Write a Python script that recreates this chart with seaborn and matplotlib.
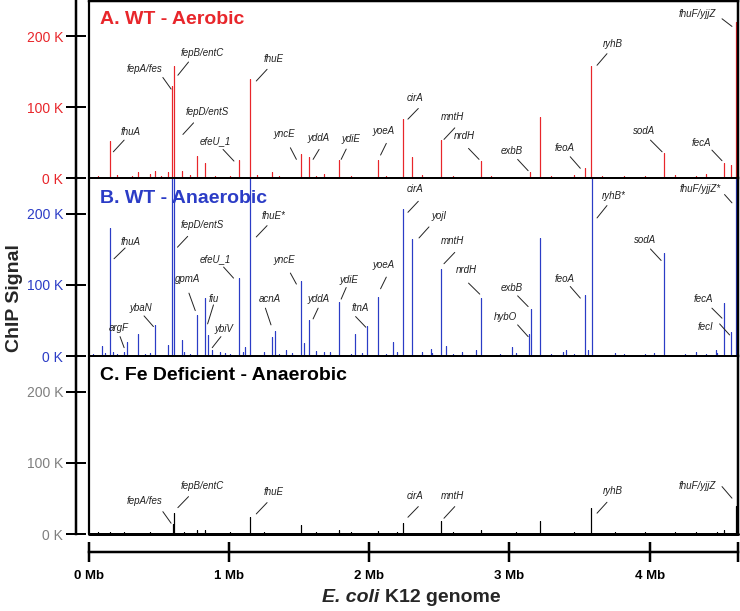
import numpy as np
import pandas as pd
import matplotlib
matplotlib.use("Agg")
import matplotlib.pyplot as plt
import seaborn as sns

# ---------------- data (positions in Mb, signal in thousands) ----------------
peaks_a_mb = [0.151, 0.351, 0.475, 0.566, 0.596, 0.609, 0.666, 0.775, 0.827, 1.070,
              1.151, 1.309, 1.513, 1.573, 1.784, 2.063, 2.241, 2.304, 2.511, 2.799,
              3.149, 3.220, 3.541, 3.584, 4.106, 4.527, 4.582, 4.618]
peaks_a_k = [52, 8, 10, 8, 130, 158, 10, 31, 21, 25,
             140, 8, 34, 29, 25, 25, 83, 30, 53, 24,
             9, 86, 14, 158, 36, 21, 18, 220]

peaks_b_mb = [0.099, 0.154, 0.177, 0.277, 0.354, 0.477, 0.570, 0.596, 0.609, 0.666,
              0.775, 0.830, 0.849, 0.882, 0.934, 1.073, 1.113, 1.154, 1.309, 1.330,
              1.411, 1.518, 1.539, 1.575, 1.784, 1.901, 1.982, 2.063, 2.173, 2.241,
              2.304, 2.439, 2.511, 2.551, 2.761, 2.799, 3.016, 3.141, 3.154, 3.220,
              3.404, 3.541, 3.561, 3.587, 4.106, 4.473, 4.527, 4.582, 4.618]
peaks_b_k = [14, 180, 6, 19, 31, 43, 16, 300, 300, 22,
             57, 81, 29, 8, 6, 109, 12, 300, 26, 35,
             8, 105, 18, 50, 76, 31, 42, 83, 20, 206,
             164, 10, 122, 14, 8, 82, 12, 31, 66, 166,
             8, 86, 8, 300, 145, 8, 74, 34, 300]

peaks_c_mb = [0.154, 0.601, 0.611, 0.775, 0.827, 1.154, 1.518, 1.784, 2.063, 2.241,
              2.511, 2.799, 3.220, 3.584, 4.527, 4.618]
peaks_c_k = [3, 14, 30, 5, 5, 24, 12, 5, 4, 16,
             18, 5, 18, 36, 5, 40]

minor_mb = [0.03, 0.07, 0.12, 0.20, 0.25, 0.31, 0.40, 0.44, 0.52, 0.68, 0.72, 0.90,
            0.97, 1.01, 1.10, 1.20, 1.25, 1.36, 1.45, 1.62, 1.68, 1.72, 1.87, 1.95,
            2.12, 2.20, 2.38, 2.45, 2.60, 2.66, 2.87, 2.93, 3.05, 3.30, 3.38, 3.46,
            3.66, 3.75, 3.82, 3.90, 3.97, 4.03, 4.18, 4.25, 4.33, 4.40, 4.48]
minor_a_k = [2, 3, 2, 4, 2, 3, 2, 5, 3, 2, 4, 3, 2, 3, 2, 4, 2, 3, 2, 3, 5, 2, 3, 2,
             3, 2, 4, 2, 3, 2, 3, 2, 2, 3, 2, 4, 3, 2, 3, 2, 3, 2, 4, 2, 3, 5, 2]
minor_b_k = [3, 2, 4, 3, 5, 2, 3, 4, 2, 5, 3, 2, 4, 3, 5, 2, 6, 3, 4, 7, 5, 6, 3, 4,
             3, 5, 6, 4, 3, 5, 2, 3, 4, 3, 5, 3, 2, 4, 3, 2, 3, 4, 2, 3, 5, 3, 4]
minor_c_k = [2, 3, 2, 2, 3, 2, 2, 3, 2, 3, 2, 2, 2, 3, 2, 2, 3, 2, 2, 3, 2, 2, 3, 2,
             2, 3, 2, 2, 3, 2, 2, 2, 3, 2, 2, 3, 2, 3, 2, 2, 3, 2, 3, 2, 3, 2, 3]

y_ticks_k = [0, 100, 200]
y_tick_labels = ["0 K", "100 K", "200 K"]
x_ticks_mb = [0, 1, 2, 3, 4]
x_tick_labels = ["0 Mb", "1 Mb", "2 Mb", "3 Mb", "4 Mb"]
genome_end_mb = 4.63

panel_titles = ["A. WT - Aerobic", "B. WT - Anaerobic", "C. Fe Deficient - Anaerobic"]

# gene labels: name, text (x, y), pointer start (x, y), pointer end (x, y)  [Mb, K]
labels_a = [
    ("fhuA", 0.304, 64.4, 0.254, 53.5, 0.177, 37.0),
    ("fepA/fes", 0.399, 154.5, 0.530, 142.0, 0.589, 125.6),
    ("fepB/entC", 0.809, 177.0, 0.713, 163.8, 0.637, 145.1),
    ("fhuE", 1.320, 168.0, 1.273, 153.5, 1.196, 137.0),
    ("fepD/entS", 0.844, 93.4, 0.749, 77.9, 0.673, 61.5),
    ("efeU_1", 0.904, 51.5, 0.959, 40.4, 1.037, 23.9),
    ("yncE", 1.396, 61.5, 1.439, 42.7, 1.482, 26.3),
    ("yddA", 1.637, 55.9, 1.644, 40.4, 1.601, 26.3),
    ("ydiE", 1.873, 54.5, 1.837, 40.8, 1.801, 26.3),
    ("yoeA", 2.101, 66.2, 2.123, 48.9, 2.082, 32.4),
    ("cirA", 2.327, 113.1, 2.351, 98.2, 2.277, 83.1),
    ("mntH", 2.594, 86.3, 2.611, 70.8, 2.534, 54.5),
    ("nrdH", 2.682, 59.2, 2.709, 41.8, 2.784, 26.3),
    ("exbB", 3.016, 38.0, 3.059, 26.3, 3.134, 10.3),
    ("feoA", 3.396, 41.8, 3.434, 30.0, 3.506, 13.7),
    ("ryhB", 3.737, 189.7, 3.696, 175.6, 3.625, 159.2),
    ("sodA", 3.963, 66.2, 4.006, 53.5, 4.089, 37.0),
    ("fecA", 4.368, 49.7, 4.444, 39.4, 4.516, 24.4),
    ("fhuF/yjjZ", 4.337, 232.0, 4.516, 224.9, 4.587, 214.1),
]
labels_b = [
    ("fhuA", 0.304, 160.1, 0.261, 151.7, 0.182, 136.6),
    ("fepD/entS", 0.809, 183.8, 0.707, 168.0, 0.634, 152.8),
    ("fhuE*", 1.320, 196.2, 1.273, 183.1, 1.196, 167.2),
    ("efeU_1", 0.904, 136.2, 0.963, 124.9, 1.034, 109.4),
    ("gpmA", 0.709, 108.0, 0.716, 88.3, 0.761, 63.8),
    ("fiu", 0.894, 80.3, 0.891, 71.8, 0.849, 45.1),
    ("ybaN", 0.375, 67.2, 0.396, 56.3, 0.463, 41.3),
    ("argF", 0.216, 39.9, 0.225, 27.2, 0.254, 11.7),
    ("ybiV", 0.968, 37.6, 0.944, 27.2, 0.882, 11.7),
    ("acnA", 1.291, 79.9, 1.261, 67.2, 1.301, 43.7),
    ("yncE", 1.396, 135.2, 1.439, 116.5, 1.482, 101.0),
    ("yddA", 1.637, 79.9, 1.637, 67.2, 1.601, 52.1),
    ("ydiE", 1.856, 107.0, 1.837, 96.2, 1.801, 79.9),
    ("ftnA", 1.939, 67.2, 1.904, 55.4, 1.977, 40.4),
    ("cirA", 2.327, 235.2, 2.351, 217.3, 2.277, 201.8),
    ("yojI", 2.499, 197.2, 2.427, 181.3, 2.356, 165.8),
    ("mntH", 2.594, 161.0, 2.611, 145.5, 2.534, 129.6),
    ("yoeA", 2.101, 128.2, 2.123, 110.8, 2.082, 94.4),
    ("nrdH", 2.694, 120.1, 2.709, 102.4, 2.789, 86.9),
    ("exbB", 3.016, 96.2, 3.059, 84.5, 3.134, 69.4),
    ("hybO", 2.975, 55.4, 3.059, 43.7, 3.134, 27.2),
    ("feoA", 3.396, 108.0, 3.434, 97.6, 3.506, 81.3),
    ("ryhB*", 3.744, 224.4, 3.696, 211.3, 3.625, 193.9),
    ("sodA", 3.968, 163.4, 4.006, 150.3, 4.082, 134.2),
    ("fecA", 4.380, 80.3, 4.444, 67.2, 4.516, 53.1),
    ("fecI", 4.396, 41.3, 4.499, 45.1, 4.570, 29.6),
    ("fhuF/yjjZ*", 4.361, 235.2, 4.534, 226.8, 4.587, 215.1),
]
labels_c = [
    ("fepA/fes", 0.399, 46.5, 0.530, 31.4, 0.589, 15.1),
    ("fepB/entC", 0.809, 68.0, 0.713, 52.5, 0.637, 37.0),
    ("fhuE", 1.320, 59.6, 1.273, 44.1, 1.196, 28.2),
    ("cirA", 2.327, 53.9, 2.351, 38.5, 2.277, 23.5),
    ("mntH", 2.594, 53.9, 2.611, 38.5, 2.534, 22.1),
    ("ryhB", 3.737, 60.6, 3.696, 44.6, 3.625, 29.2),
    ("fhuF/yjjZ", 4.337, 68.0, 4.516, 66.6, 4.587, 50.3),
]

# ---------------- style ----------------
sns.set_style("white")
plt.rcParams["font.family"] = ["Liberation Sans", "DejaVu Sans"]

RED = "#E8262B"
BLUE = "#2B3CC6"
BLACK = "#000000"
GRAY = "#7F7F7F"

W, H = 740, 611
fig = plt.figure(figsize=(W / 100, H / 100), dpi=100)


def fx(px):
    return px / W


def fy(py):
    return 1 - py / H


left_px, right_px = 88.5, 738
panels_px = [(1, 178), (178, 356), (356, 534)]
px2pt = 0.72

panel_data = [
    (peaks_a_mb, peaks_a_k, minor_a_k, RED, RED, labels_a, RED),
    (peaks_b_mb, peaks_b_k, minor_b_k, BLUE, BLUE, labels_b, BLUE),
    (peaks_c_mb, peaks_c_k, minor_c_k, BLACK, GRAY, labels_c, BLACK),
]
title_y_px = [19.5, 198.5, 375]

axes = []
for i, ((top, bot), (pmb, pk, mk, col, tickcol, labs, tcol)) in enumerate(zip(panels_px, panel_data)):
    ax = fig.add_axes([fx(left_px), fy(bot), fx(right_px - left_px), (bot - top) / H])
    axes.append(ax)
    # stems built from data
    df = pd.DataFrame({"pos": list(pmb) + list(minor_mb), "sig": list(pk) + list(mk)})
    df = df.sort_values("pos")
    xs, ys = [0.0], [0.0]
    for p, s in zip(df["pos"], df["sig"]):
        xs += [p, p, p]
        ys += [0.0, s, 0.0]
    xs.append(genome_end_mb)
    ys.append(0.0)
    stem = pd.DataFrame({"x": xs, "y": ys})
    sns.lineplot(data=stem, x="x", y="y", sort=False, estimator=None,
                 color=col, lw=0.8, ax=ax, legend=False)
    ax.set_xlim(0, genome_end_mb)
    ax.set_ylim(0, 250)
    ax.set_xlabel("")
    ax.set_ylabel("")

    # gene labels
    for name, tx, ty, x0, y0, x1, y1 in labs:
        ax.text(tx, ty, name, fontsize=7, fontstyle="italic", color="#222222",
                ha="center", va="center")
        ax.plot([x0, x1], [y0, y1], color="#222222", lw=0.7)

    # y axis (detached)
    ax.set_yticks(y_ticks_k)
    ax.set_yticklabels(y_tick_labels, fontsize=9.5, fontweight="bold", color=tickcol)
    ax.spines["left"].set_position(("outward", 12.5 * px2pt))
    ax.spines["left"].set_linewidth(2.5 * px2pt)
    ax.tick_params(axis="y", direction="inout", length=20 * px2pt, width=2 * px2pt,
                   pad=2, left=True, colors=BLACK, labelcolor=tickcol)
    # frame
    ax.axvline(0, color=BLACK, lw=2.2 * px2pt, clip_on=False, zorder=5)
    ax.spines["right"].set_linewidth(2.5 * px2pt)
    ax.spines["top"].set_linewidth(2.5 * px2pt if i == 0 else 2 * px2pt)
    for s in ["right", "top"]:
        ax.spines[s].set_color(BLACK)
    ax.spines["left"].set_color(BLACK)

    if i < 2:
        ax.set_xticks([])
        ax.spines["bottom"].set_linewidth(2 * px2pt)
        ax.spines["bottom"].set_color(BLACK)
    else:
        ax.axhline(0, color=BLACK, lw=3 * px2pt, clip_on=False, zorder=5)
        ax.spines["bottom"].set_position(("outward", 18 * px2pt))
        ax.spines["bottom"].set_linewidth(2.5 * px2pt)
        ax.spines["bottom"].set_color(BLACK)
        ax.set_xticks(x_ticks_mb + [genome_end_mb])
        ax.set_xticklabels(x_tick_labels + [""], fontsize=9.5, fontweight="bold")
        ax.tick_params(axis="x", direction="inout", length=20 * px2pt, width=2.5 * px2pt,
                       pad=6, bottom=True, colors=BLACK)

    fig.text(fx(100), fy(title_y_px[i]), panel_titles[i], fontsize=14,
             fontweight="bold", color=tcol, ha="left", va="center")

# axis titles
fig.text(fx(15), fy(298), "ChIP Signal", rotation=90, fontsize=14, fontweight="bold",
         ha="center", va="center")
fig.text(fx(379), fy(598), "E. coli", fontsize=14, fontweight="bold",
         fontstyle="italic", ha="right", va="center")
fig.text(fx(385), fy(598), "K12 genome", fontsize=14, fontweight="bold",
         ha="left", va="center")

fig.savefig("out.png", dpi=100)
